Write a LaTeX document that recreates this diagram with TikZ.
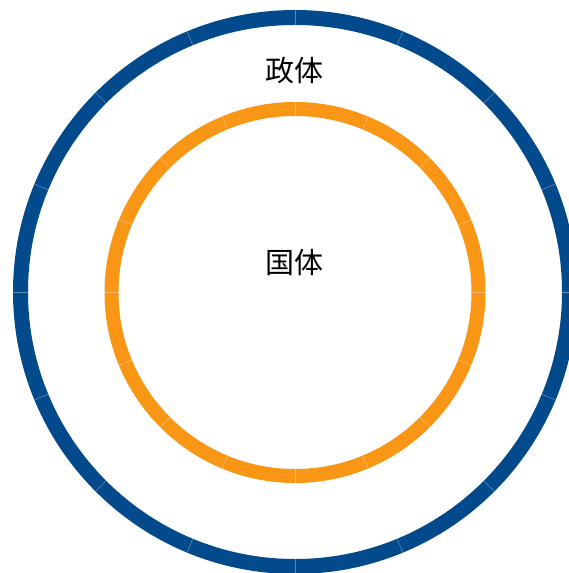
\documentclass[tikz,border=0pt]{standalone}
\usepackage{fontspec}
\newfontfamily\cjk{Noto Sans CJK SC}
\definecolor{ringblue}{RGB}{2,74,140}
\definecolor{ringorange}{RGB}{250,150,22}
\tikzset{
  ring/.style={circle, draw=#1, inner sep=0pt, outer sep=0pt, fill=none},
  seam/.style={draw=white, opacity=0.35, line width=0.6pt},
  label/.style={font=\cjk\fontsize{29}{32}\selectfont, text=black, inner sep=0pt}
}
\begin{document}
\begin{tikzpicture}[x=1pt,y=1pt]
\useasboundingbox (0,0) rectangle (568,-573);
\node[ring=ringblue, line width=15pt, minimum size=549pt] (outer) at (295,-292) {};
\node[ring=ringorange, line width=14pt, minimum size=367pt] (inner) at (295,-292.5) {};
\foreach \a in {0,22.5,...,359} {
  \draw[seam] ([shift={(\a:267)}]outer.center) -- ([shift={(\a:282)}]outer.center);
  \draw[seam] ([shift={(\a:176.5)}]inner.center) -- ([shift={(\a:190.5)}]inner.center);
}
\node[label] (zhengti) at (294,-71) {政体};
\node[label] (guoti) at (294,-263) {国体};
\end{tikzpicture}
\end{document}
